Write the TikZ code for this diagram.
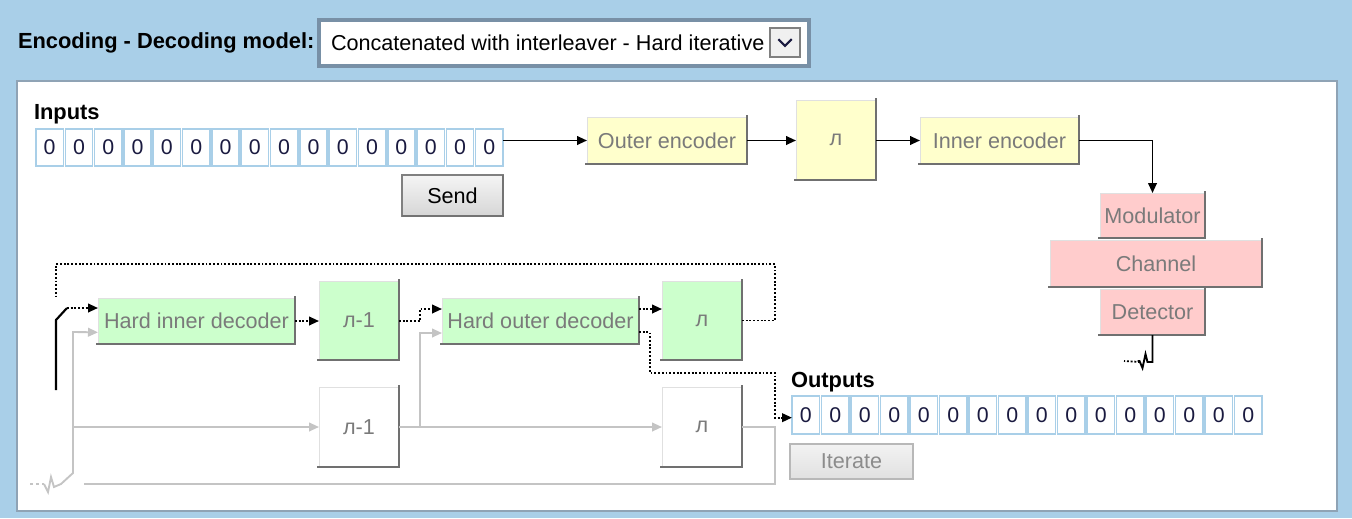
\documentclass[tikz,border=0pt]{standalone}
\usepackage{fontspec}
\setmainfont{Liberation Sans}
\usetikzlibrary{arrows.meta}
\definecolor{bgblue}{HTML}{A9CFE8}
\definecolor{panelline}{HTML}{8FA3B5}
\definecolor{selline}{HTML}{7890A6}
\definecolor{cellblue}{HTML}{A9CFE8}
\definecolor{yel}{HTML}{FFFFCC}
\definecolor{grn}{HTML}{CCFFCC}
\definecolor{pnk}{HTML}{FFCCCC}
\definecolor{shadowgray}{HTML}{707070}
\definecolor{lbl}{HTML}{7A7A7A}
\definecolor{glight}{HTML}{C4C4C4}
\definecolor{digit}{HTML}{1A1A40}
\newcommand{\bx}[7]{%
  \node[#6, minimum width={((#4)-(#2))*0.75pt}, minimum height={((#5)-(#3))*0.75pt}] (#1) at ({((#2)+(#4))/2},{((#3)+(#5))/2}) {#7};}
\newcommand{\shd}[1]{%
  \draw[draw=shadowgray, line width=2.2pt] ([yshift=1.5pt]#1.north east) -- (#1.south east) -- ([xshift=-1.5pt]#1.south west);}
\begin{document}
\begin{tikzpicture}[x=0.75pt,y=-0.75pt,
  every node/.style={inner sep=0pt, outer sep=0pt},
  blk/.style={draw=white!88!black, line width=0.6pt, font=\fontsize{16.2}{19}\selectfont, text=lbl},
  ybox/.style={blk, fill=yel},
  gbox/.style={blk, fill=grn},
  pbox/.style={blk, fill=pnk},
  wbox/.style={blk, fill=white},
  cell/.style={draw=cellblue, line width=1.2pt, fill=white, font=\fontsize{16}{18}\selectfont, text=digit},
  arr/.style={line width=1.4pt, -{Triangle[length=7.5pt,width=6.5pt]}},
  dline/.style={line width=1.4pt, dash pattern=on 1.4pt off 1.4pt},
  darr/.style={dline, -{Triangle[length=7.5pt,width=6.5pt]}},
  garr/.style={glight, line width=1.4pt, -{Triangle[length=7.5pt,width=6.5pt]}},
  gline/.style={glight, line width=1.4pt},
  hdr/.style={font=\fontsize{16.4}{19}\selectfont\bfseries},
]
\useasboundingbox (0,0) rectangle (1352,518);
% background
\fill[bgblue] (0,0) rectangle (1352,518);
\fill[white] (17,81) rectangle (1337,511);
\draw[panelline, line width=1.2pt] (17,81) rectangle (1337,511);
% header
\node[hdr, anchor=west] (title) at (18,43) {Encoding - Decoding model:};
\bx{sel}{319}{20}{809}{66}{draw=selline, line width=2.4pt, fill=white}{}
\node[anchor=west, font=\fontsize{16.2}{19}\selectfont] (seltext) at (331,43) {Concatenated with interleaver - Hard iterative};
\bx{selbtn}{770}{28}{800}{57}{draw=gray, line width=0.9pt, fill=black!6}{}
\draw[digit, line width=1.6pt] ([xshift=-5pt,yshift=2.5pt]selbtn.center) -- ([yshift=-2.5pt]selbtn.center) -- ([xshift=5pt,yshift=2.5pt]selbtn.center);
% inputs
\node[hdr, anchor=west] (inlbl) at (34,114) {Inputs};
\foreach \i in {0,...,15}{
  \bx{in\i}{35+\i*29.31+1}{129}{35+\i*29.31+29.31-1}{166}{cell}{0}
}
\bx{send}{402}{175}{503}{216}{draw=gray, line width=0.9pt, top color=black!4, bottom color=black!16, font=\fontsize{16.2}{19}\selectfont}{Send}
\draw[black!55, line width=1.6pt] (send.south west) -- (send.south east) -- (send.north east);
% encoder chain
\bx{oenc}{587}{117}{747}{164}{ybox}{Outer encoder}
\bx{pie}{796}{100}{876}{180}{ybox}{л}
\bx{ienc}{920}{117}{1079}{164}{ybox}{Inner encoder}
\bx{mod}{1100}{193}{1205}{238}{pbox}{Modulator}
\bx{chan}{1050}{240}{1262}{287}{pbox}{Channel}
\bx{det}{1100}{289}{1205}{335}{pbox}{Detector}
\shd{oenc}\shd{pie}\shd{ienc}\shd{mod}\shd{chan}\shd{det}
\draw[arr] (in15.east |- oenc.west) -- (oenc.west);
\draw[arr] (oenc.east) -- (pie.west |- oenc.east);
\draw[arr] (pie.east |- ienc.west) -- (ienc.west);
\draw[arr] (ienc.east) -| (mod.north);
\coordinate (detend) at (1124,361);
\draw[line width=1.4pt] (det.south) -- ++(0,27) -- ++(-5,0) -- ++(-2,-8) -- ++(-3,14) -- ++(-3,-7) -- ++(-2,0);
\draw[dline] (1140,362) -- (detend);
% decoder
\bx{hid}{98}{298}{295}{344}{gbox}{Hard inner decoder}
\bx{pinvA}{319}{281}{399}{360}{gbox}{л-1}
\bx{hod}{442}{298}{639}{344}{gbox}{Hard outer decoder}
\bx{piA}{662}{281}{742}{360}{gbox}{л}
\bx{pinvB}{319}{387}{399}{467}{wbox}{л-1}
\bx{piB}{662}{387}{742}{467}{wbox}{л}
\shd{hid}\shd{pinvA}\shd{hod}\shd{piA}\shd{pinvB}\shd{piB}
\coordinate (hidD) at ([yshift=-8.5pt]hid.west);
\coordinate (hodWU) at ([yshift=9pt]hod.west);
\coordinate (hodWD) at ([yshift=-9pt]hod.west);
\coordinate (hodEU) at ([yshift=9pt]hod.east);
\coordinate (hodED) at ([yshift=-8.5pt]hod.east);
% outputs
\node[hdr, anchor=west] (outlbl) at (791,382) {Outputs};
\foreach \i in {0,...,15}{
  \bx{out\i}{791+\i*29.5+1}{396}{791+\i*29.5+29.5-1}{434}{cell}{0}
}
\coordinate (outIn) at ([yshift=-2pt]out0.west);
\bx{iter}{790}{444}{913}{479}{draw=black!28, line width=0.9pt, top color=black!5, bottom color=black!12, font=\fontsize{16.2}{19}\selectfont, text=black!45}{Iterate}
% switch and feedback
\coordinate (swtop) at (56,297);
\coordinate (swbot) at (56,390);
\coordinate (fbR) at (775,264);
\coordinate (fbL) at (56,264);
\coordinate (swarm) at (67,308);
\draw[dline] (piA.east) -| (fbR) -- (fbL) -- (swtop);
\draw[line width=1.6pt] (swbot) -- (56,320) -- (swarm);
\draw[darr] (swarm) -- (hid.west |- swarm);
\draw[darr] (hid.east) -- (pinvA.west |- hid.east);
\coordinate (jA) at (420,321);
\draw[darr] (pinvA.east |- jA) -- (jA) |- (hodWU);
\draw[darr] (hodEU) -- (piA.west |- hodEU);
\coordinate (oA) at (650,373);
\coordinate (oB) at (775,373);
\draw[darr] (hodED) -| (oA) -- (oB) |- (outIn);
% gray soft path
\coordinate (gstart) at (30,484);
\coordinate (gv) at (73,427);
\coordinate (gend) at (84,484);
\draw[gline, dash pattern=on 2.5pt off 2pt] (gstart) -- (44,484);
\draw[garr] (44,484) -- (48,492) -- (51,477) -- (54,487) -- (61,484) -- (73,473) -- (73,332) -- (hidD);
\draw[garr] (gv) -- (pinvB.west);
\draw[garr] (pinvB.east) -- (piB.west);
\coordinate (jB) at (420,427);
\draw[garr] (jB) |- (hodWD);
\draw[gline] (piB.east) -| (775,484) -- (gend);
\end{tikzpicture}
\end{document}
